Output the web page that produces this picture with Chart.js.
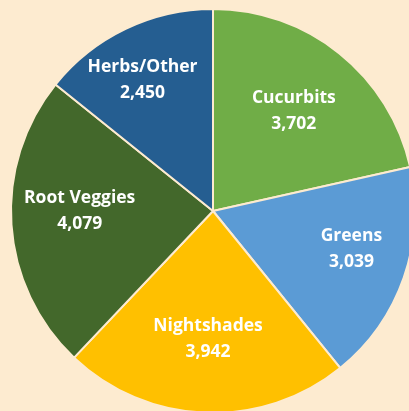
<!DOCTYPE html>
<html>
<head>
<meta charset="utf-8">
<script src="https://cdn.jsdelivr.net/npm/chart.js@4"></script>
<style>
  html, body { margin: 0; padding: 0; background: #fdebd0; overflow: hidden; width: 409px; height: 411px; }
  #wrap { position: absolute; left: 0; top: 0; width: 426px; height: 422px; }
</style>
</head>
<body>
<div id="wrap"><canvas id="c" width="426" height="422"></canvas></div>
<script>
const categories = ['Cucurbits', 'Greens', 'Nightshades', 'Root Veggies', 'Herbs/Other'];
const values = [3702, 3039, 3942, 4079, 2450];
const colors = ['#70ad47', '#5b9bd5', '#ffc000', '#43682b', '#255e91'];
// label placement: fraction of radius, angular shift (degrees) per slice
const labelRadius = [0.64, 0.71, 0.63, 0.66, 0.74];
const labelShift = [0, -4, 0, 4, -2.5];

const labelPlugin = {
  id: 'sliceLabels',
  afterDatasetsDraw(chart) {
    const ctx = chart.ctx;
    const meta = chart.getDatasetMeta(0);
    ctx.save();
    ctx.fillStyle = '#ffffff';
    ctx.font = 'bold 17.5px "Open Sans", sans-serif';
    ctx.textAlign = 'center';
    ctx.textBaseline = 'middle';
    meta.data.forEach((arc, i) => {
      const p = arc.getProps(['x', 'y', 'startAngle', 'endAngle', 'outerRadius'], true);
      const mid = (p.startAngle + p.endAngle) / 2 + labelShift[i] * Math.PI / 180;
      const r = p.outerRadius * labelRadius[i];
      const cx = p.x + Math.cos(mid) * r;
      const cy = p.y + Math.sin(mid) * r;
      ctx.fillText(categories[i], cx, cy - 12.5);
      ctx.fillText(values[i].toLocaleString('en-US'), cx, cy + 13.5);
    });
    ctx.restore();
  }
};

new Chart(document.getElementById('c'), {
  type: 'pie',
  data: {
    labels: categories,
    datasets: [{
      data: values,
      backgroundColor: colors,
      borderColor: '#fdebd0',
      borderWidth: 2
    }]
  },
  options: {
    responsive: false,
    animation: false,
    radius: 202,
    layout: { padding: 0 },
    plugins: {
      legend: { display: false },
      tooltip: { enabled: false }
    }
  },
  plugins: [labelPlugin]
});
</script>
</body>
</html>
